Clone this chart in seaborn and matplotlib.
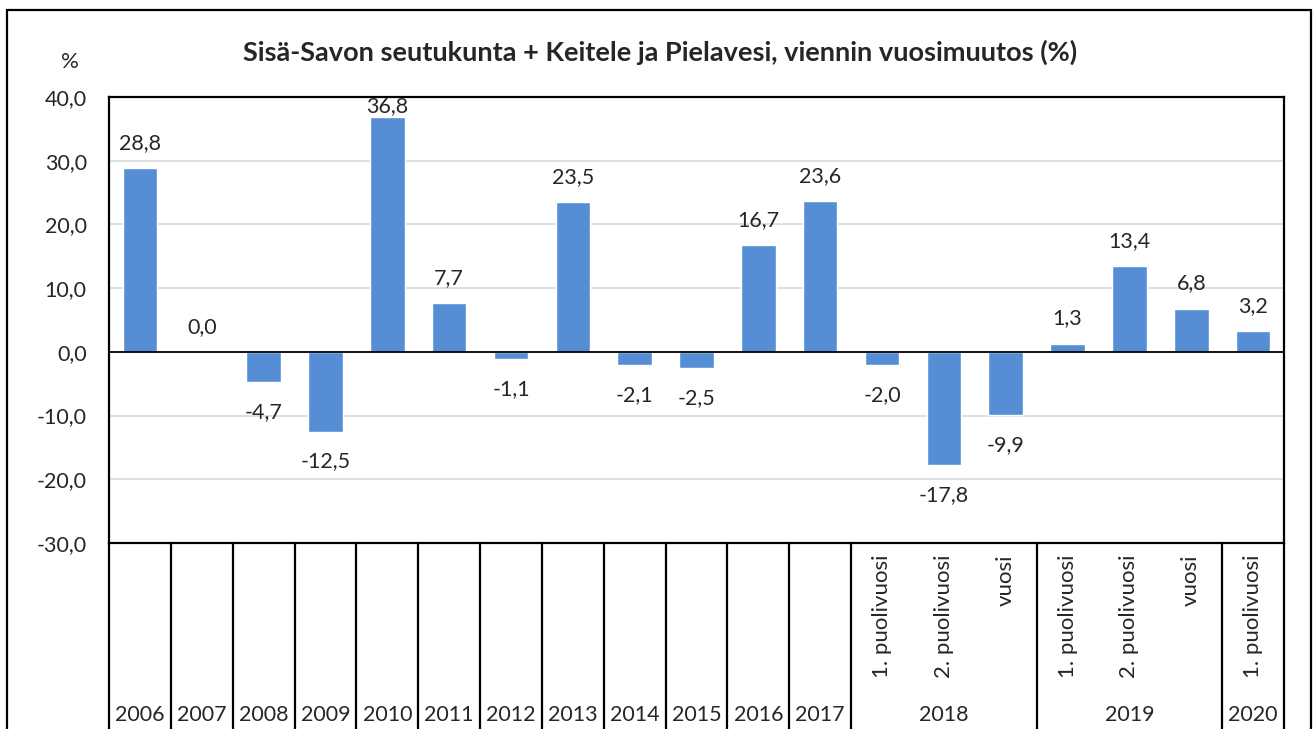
import matplotlib
matplotlib.use("Agg")
import matplotlib.pyplot as plt
import seaborn as sns
import pandas as pd
from matplotlib.lines import Line2D

categories = ["2006", "2007", "2008", "2009", "2010", "2011", "2012", "2013", "2014",
              "2015", "2016", "2017",
              "2018 1. puolivuosi", "2018 2. puolivuosi", "2018 vuosi",
              "2019 1. puolivuosi", "2019 2. puolivuosi", "2019 vuosi",
              "2020 1. puolivuosi"]
sub_labels = ["", "", "", "", "", "", "", "", "", "", "", "",
              "1. puolivuosi", "2. puolivuosi", "vuosi",
              "1. puolivuosi", "2. puolivuosi", "vuosi",
              "1. puolivuosi"]
groups = ["2006", "2007", "2008", "2009", "2010", "2011", "2012", "2013", "2014",
          "2015", "2016", "2017", "2018", "2019", "2020"]
group_sizes = [1, 1, 1, 1, 1, 1, 1, 1, 1, 1, 1, 1, 3, 3, 1]
values = [28.8, 0.0, -4.7, -12.5, 36.8, 7.7, -1.1, 23.5, -2.1, -2.5, 16.7, 23.6,
          -2.0, -17.8, -9.9, 1.3, 13.4, 6.8, 3.2]
yticks = [40, 30, 20, 10, 0, -10, -20, -30]
title = "Sisä-Savon seutukunta + Keitele ja Pielavesi, viennin vuosimuutos (%)"

sns.set_style("white")
plt.rcParams['font.family'] = ['Lato', 'DejaVu Sans']

W, H = 1314, 729
fig = plt.figure(figsize=(W / 100, H / 100), dpi=100)
L, R, T, B = 109, 1284, 97, 543
ax = fig.add_axes([L / W, 1 - B / H, (R - L) / W, (B - T) / H])

df = pd.DataFrame({"cat": categories, "val": values})
sns.barplot(data=df, x="cat", y="val", color="#558ED5", width=0.56,
            saturation=1, ax=ax, zorder=3)
n = len(categories)
ymin, ymax = -30, 40
ax.set_xlim(-0.5, n - 0.5)
ax.set_ylim(ymin, ymax)
ax.set_yticks(yticks)
ax.set_yticklabels([f"{t:.1f}".replace(".", ",") for t in yticks], fontsize=15.5)
ax.tick_params(axis="y", length=0, pad=16)
ax.set_xticks([])
ax.set_xlabel("")
ax.set_ylabel("")
ax.grid(axis="y", color="#D9D9D9", linewidth=1.2, zorder=0)
ax.axhline(0, color="black", linewidth=1.3, zorder=4)
for s in ax.spines.values():
    s.set_color("black")
    s.set_linewidth(1.6)
    s.set_visible(True)

px_per_unit = (B - T) / (ymax - ymin)
for i, v in enumerate(values):
    lab = f"{v:.1f}".replace(".", ",")
    if v >= 0:
        room = (ymax - v) * px_per_unit
        off = 25 if room >= 36 else max(11, room - 9)
    else:
        off = -30
    ax.annotate(lab, (i, v), xytext=(0, off), textcoords="offset pixels",
                ha="center", va="center", fontsize=15.5, zorder=5)

# category table below the plot
trans = ax.get_xaxis_transform()
ybot = -(H - B) / (B - T)
bounds = [0]
for g in group_sizes:
    bounds.append(bounds[-1] + g)
for b in bounds:
    ax.add_line(Line2D([b - 0.5, b - 0.5], [0, ybot], transform=trans,
                       color="black", linewidth=1.6, clip_on=False))
ysub = -(555 - B) / (B - T)
for i, s in enumerate(sub_labels):
    if s:
        ax.text(i, ysub, s, transform=trans, rotation=90, ha="center", va="top",
                fontsize=16)
yg = -(715 - B) / (B - T)
for k, g in enumerate(groups):
    c = (bounds[k] + bounds[k + 1] - 1) / 2
    ax.text(c, yg, g, transform=trans, ha="center", va="center", fontsize=15.5)

# outer frame
fig.add_artist(Line2D([7 / W, 7 / W], [0, 1 - 10 / H], transform=fig.transFigure,
                      color="black", linewidth=1.6))
fig.add_artist(Line2D([1311 / W, 1311 / W], [0, 1 - 10 / H], transform=fig.transFigure,
                      color="black", linewidth=1.6))
fig.add_artist(Line2D([7 / W, 1311 / W], [1 - 10 / H, 1 - 10 / H], transform=fig.transFigure,
                      color="black", linewidth=1.6))

fig.text(660 / W, 1 - 52 / H, title, ha="center", va="center", fontsize=19.5,
         fontweight="bold")
fig.text(70 / W, 1 - 62 / H, "%", ha="center", va="center", fontsize=16)

fig.savefig("out.png", dpi=100)
